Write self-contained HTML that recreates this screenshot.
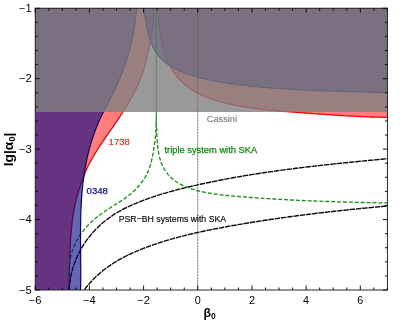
<!DOCTYPE html>
<html><head><meta charset="utf-8"><style>
html,body{margin:0;padding:0;background:#fff;}
body{width:419px;height:326px;overflow:hidden;position:relative;font-family:"Liberation Sans",sans-serif;}
svg text{font-family:"Liberation Sans",sans-serif;}
</style></head><body>
<svg width="419" height="326" viewBox="0 0 419 326" style="position:absolute;left:0;top:0;will-change:transform">
<defs><clipPath id="c"><rect x="35.25" y="8.25" width="352.15" height="281.75"/></clipPath></defs>
<g clip-path="url(#c)">
<polygon points="35.25,8.25 154.1,8.0 154.1,9.0 154.1,10.0 154.1,11.0 154.0,12.1 154.0,13.1 154.0,14.1 153.9,15.1 153.8,16.1 153.8,17.1 153.7,18.1 153.6,19.1 153.5,20.1 153.4,21.1 153.3,22.1 153.2,23.1 153.0,24.1 152.9,25.1 152.8,26.1 152.6,27.0 152.5,28.0 152.3,29.0 152.2,30.0 152.0,31.0 151.9,32.0 151.7,33.0 151.5,33.9 151.4,34.9 151.2,35.9 151.0,36.9 150.8,37.9 150.7,38.9 150.5,39.9 150.3,40.8 150.1,41.8 149.9,42.8 149.7,43.8 149.6,44.8 149.4,45.8 149.2,46.8 149.0,47.8 148.8,48.8 148.6,49.8 148.4,50.8 148.2,51.8 148.0,52.8 147.8,53.7 147.6,54.7 147.3,55.7 147.1,56.7 146.9,57.7 146.7,58.7 146.4,59.7 146.2,60.7 145.9,61.6 145.7,62.6 145.4,63.6 145.2,64.6 144.9,65.6 144.6,66.5 144.3,67.5 144.0,68.5 143.8,69.4 143.4,70.4 143.1,71.3 142.8,72.3 142.5,73.2 142.2,74.2 141.8,75.1 141.5,76.1 141.1,77.0 140.8,77.9 140.4,78.9 140.0,79.8 139.7,80.7 139.3,81.6 138.9,82.6 138.5,83.5 138.1,84.4 137.7,85.3 137.3,86.2 136.8,87.1 136.4,88.0 136.0,88.9 135.5,89.8 135.1,90.7 134.6,91.6 134.2,92.5 133.7,93.4 133.3,94.3 132.8,95.2 132.3,96.1 131.9,96.9 131.4,97.8 130.9,98.7 130.4,99.6 129.9,100.4 129.4,101.3 128.9,102.2 128.4,103.0 127.9,103.9 127.4,104.8 126.9,105.6 126.3,106.5 125.8,107.3 125.3,108.2 124.8,109.1 124.2,109.9 123.7,110.8 123.1,111.6 122.6,112.5 122.1,113.3 121.5,114.2 121.0,115.0 120.4,115.8 119.9,116.7 119.3,117.5 118.7,118.4 118.2,119.2 117.6,120.0 117.1,120.9 116.5,121.7 115.9,122.6 115.4,123.4 114.8,124.2 114.2,125.1 113.6,125.9 113.1,126.7 112.5,127.6 111.9,128.4 111.4,129.2 110.8,130.0 110.2,130.9 109.6,131.7 109.0,132.5 108.5,133.4 107.9,134.2 107.3,135.0 106.7,135.8 106.2,136.7 105.6,137.5 105.0,138.3 104.5,139.2 103.9,140.0 103.3,140.8 102.7,141.7 102.2,142.5 101.6,143.3 101.1,144.2 100.5,145.0 99.9,145.8 99.4,146.7 98.8,147.5 98.3,148.4 97.8,149.2 97.2,150.0 96.7,150.9 96.2,151.7 95.6,152.6 95.1,153.4 94.6,154.3 94.1,155.2 93.6,156.0 93.1,156.9 92.6,157.8 92.1,158.6 91.6,159.5 91.1,160.4 90.6,161.3 90.2,162.1 89.7,163.0 89.2,163.9 88.8,164.8 88.3,165.7 87.9,166.6 87.5,167.5 87.0,168.4 86.6,169.3 86.2,170.2 85.8,171.2 85.4,172.1 85.0,173.0 84.7,173.9 84.3,174.9 83.9,175.8 83.6,176.8 83.2,177.7 82.8,178.6 82.5,179.6 82.2,180.5 81.8,181.5 81.5,182.4 81.1,183.4 80.8,184.4 80.5,185.3 80.2,186.3 79.9,187.2 79.5,188.2 79.2,189.1 78.9,190.1 78.6,191.1 78.3,192.0 78.0,193.0 77.7,194.0 77.5,194.9 77.2,195.9 76.9,196.9 76.7,197.8 76.4,198.8 76.2,199.8 75.9,200.8 75.7,201.7 75.5,202.7 75.2,203.7 75.0,204.7 74.8,205.7 74.6,206.6 74.4,207.6 74.2,208.6 74.0,209.6 73.9,210.6 73.7,211.6 73.5,212.5 73.4,213.5 73.2,214.5 73.0,215.5 72.9,216.5 72.7,217.5 72.6,218.5 72.5,219.5 72.3,220.5 72.2,221.5 72.1,222.5 72.0,223.5 71.9,224.5 71.8,225.5 71.7,226.5 71.5,227.5 71.5,228.5 71.4,229.5 71.3,230.5 71.2,231.5 71.1,232.5 71.0,233.5 70.9,234.5 70.9,235.5 70.8,236.5 70.7,237.5 70.7,238.5 70.6,239.5 70.5,240.5 70.5,241.5 70.4,242.5 70.4,243.5 70.3,244.5 70.3,245.5 70.2,246.5 70.2,247.5 70.1,248.6 70.1,249.6 70.1,250.6 70.0,251.6 70.0,252.6 70.0,253.6 69.9,254.6 69.9,255.6 69.9,256.6 69.8,257.6 69.8,258.6 69.8,259.6 69.7,260.7 69.7,261.7 69.7,262.7 69.7,263.7 69.6,264.7 69.6,265.7 69.6,266.7 69.6,267.7 69.5,268.7 69.5,269.7 69.5,270.7 69.4,271.7 69.4,272.7 69.4,273.8 69.4,274.8 69.3,275.8 69.3,276.8 69.3,277.8 69.2,278.8 69.2,279.8 69.2,280.8 69.1,281.8 69.1,282.8 69.0,283.8 69.0,284.8 69.0,285.8 68.9,286.8 68.9,287.8 68.8,288.8 68.8,289.8 35.25,290.0" fill="rgb(255,0,0)" fill-opacity="0.5"/>
<polygon points="158.5,8.2 158.5,9.1 158.5,10.0 158.5,11.0 158.5,11.9 158.5,12.8 158.6,13.8 158.6,14.7 158.6,15.6 158.7,16.6 158.7,17.5 158.7,18.5 158.8,19.5 158.8,20.4 158.9,21.4 159.0,22.4 159.0,23.3 159.1,24.3 159.2,25.3 159.3,26.2 159.4,27.2 159.5,28.2 159.6,29.2 159.7,30.2 159.8,31.1 159.9,32.1 160.1,33.1 160.2,34.1 160.3,35.1 160.5,36.0 160.7,37.0 160.8,38.0 161.0,39.0 161.2,40.0 161.4,40.9 161.6,41.9 161.8,42.9 162.0,43.9 162.2,44.8 162.5,45.8 162.7,46.8 163.0,47.7 163.2,48.7 163.5,49.7 163.8,50.6 164.1,51.6 164.4,52.5 164.7,53.5 165.0,54.4 165.3,55.3 165.7,56.3 166.0,57.2 166.4,58.1 166.7,59.0 167.1,59.9 167.5,60.8 167.9,61.7 168.3,62.6 168.7,63.5 169.1,64.4 169.6,65.2 170.0,66.1 170.5,66.9 171.0,67.8 171.5,68.6 172.0,69.5 172.5,70.3 173.0,71.1 173.5,71.9 174.1,72.7 174.6,73.5 175.2,74.2 175.7,75.0 176.3,75.8 176.9,76.5 177.5,77.3 178.1,78.0 178.8,78.7 179.4,79.4 180.1,80.1 180.7,80.8 181.4,81.5 182.1,82.1 182.8,82.8 183.5,83.4 184.2,84.1 184.9,84.7 185.6,85.3 186.4,85.9 187.1,86.5 187.9,87.1 188.6,87.6 189.4,88.2 190.2,88.7 191.0,89.2 191.8,89.8 192.6,90.3 193.4,90.8 194.3,91.3 195.1,91.7 195.9,92.2 196.8,92.7 197.6,93.1 198.5,93.6 199.4,94.0 200.2,94.4 201.1,94.8 202.0,95.2 202.9,95.6 203.8,96.0 204.7,96.4 205.6,96.8 206.5,97.1 207.4,97.5 208.3,97.8 209.3,98.2 210.2,98.5 211.1,98.8 212.0,99.1 213.0,99.5 213.9,99.8 214.9,100.1 215.8,100.4 216.7,100.6 217.7,100.9 218.6,101.2 219.6,101.5 220.5,101.7 221.5,102.0 222.4,102.2 223.4,102.5 224.4,102.7 225.3,103.0 226.3,103.2 227.2,103.4 228.2,103.7 229.1,103.9 230.1,104.1 231.0,104.3 232.0,104.5 233.0,104.7 233.9,104.9 234.9,105.1 235.8,105.3 236.8,105.5 237.8,105.7 238.7,105.9 239.7,106.1 240.7,106.3 241.6,106.4 242.6,106.6 243.5,106.8 244.5,106.9 245.5,107.1 246.4,107.2 247.4,107.4 248.4,107.5 249.3,107.7 250.3,107.8 251.3,108.0 252.2,108.1 253.2,108.2 254.2,108.4 255.1,108.5 256.1,108.6 257.1,108.7 258.0,108.9 259.0,109.0 260.0,109.1 260.9,109.2 261.9,109.3 262.9,109.4 263.8,109.5 264.8,109.6 265.8,109.7 266.7,109.8 267.7,109.9 268.7,110.0 269.6,110.1 270.6,110.2 271.6,110.3 272.6,110.4 273.5,110.5 274.5,110.6 275.5,110.7 276.4,110.8 277.4,110.9 278.4,110.9 279.4,111.0 280.3,111.1 281.3,111.2 282.3,111.3 283.2,111.3 284.2,111.4 285.2,111.5 286.2,111.6 287.1,111.6 288.1,111.7 289.1,111.8 290.0,111.9 291.0,111.9 292.0,112.0 293.0,112.1 293.9,112.2 294.9,112.2 295.9,112.3 296.8,112.4 297.8,112.4 298.8,112.5 299.8,112.6 300.7,112.7 301.7,112.7 302.7,112.8 303.6,112.9 304.6,113.0 305.6,113.0 306.6,113.1 307.5,113.2 308.5,113.2 309.5,113.3 310.4,113.4 311.4,113.5 312.4,113.5 313.4,113.6 314.3,113.7 315.3,113.7 316.3,113.8 317.2,113.9 318.2,114.0 319.2,114.0 320.1,114.1 321.1,114.2 322.1,114.2 323.1,114.3 324.0,114.4 325.0,114.4 326.0,114.5 326.9,114.6 327.9,114.6 328.9,114.7 329.9,114.8 330.8,114.8 331.8,114.9 332.8,115.0 333.7,115.0 334.7,115.1 335.7,115.2 336.7,115.2 337.6,115.3 338.6,115.4 339.6,115.4 340.5,115.5 341.5,115.5 342.5,115.6 343.5,115.7 344.4,115.7 345.4,115.8 346.4,115.8 347.4,115.9 348.3,115.9 349.3,116.0 350.3,116.0 351.2,116.1 352.2,116.1 353.2,116.2 354.2,116.2 355.1,116.3 356.1,116.3 357.1,116.4 358.1,116.4 359.0,116.5 360.0,116.5 361.0,116.6 361.9,116.6 362.9,116.7 363.9,116.7 364.9,116.7 365.8,116.8 366.8,116.8 367.8,116.9 368.8,116.9 369.7,116.9 370.7,117.0 371.7,117.0 372.7,117.0 373.6,117.1 374.6,117.1 375.6,117.1 376.6,117.1 377.6,117.2 378.5,117.2 379.5,117.2 380.5,117.2 381.5,117.3 382.4,117.3 383.4,117.3 384.4,117.3 385.4,117.3 386.3,117.4 387.3,117.4 387.4,8.25" fill="rgb(255,0,0)" fill-opacity="0.5"/>
<polyline points="154.1,8.0 154.1,9.0 154.1,10.0 154.1,11.0 154.0,12.1 154.0,13.1 154.0,14.1 153.9,15.1 153.8,16.1 153.8,17.1 153.7,18.1 153.6,19.1 153.5,20.1 153.4,21.1 153.3,22.1 153.2,23.1 153.0,24.1 152.9,25.1 152.8,26.1 152.6,27.0 152.5,28.0 152.3,29.0 152.2,30.0 152.0,31.0 151.9,32.0 151.7,33.0 151.5,33.9 151.4,34.9 151.2,35.9 151.0,36.9 150.8,37.9 150.7,38.9 150.5,39.9 150.3,40.8 150.1,41.8 149.9,42.8 149.7,43.8 149.6,44.8 149.4,45.8 149.2,46.8 149.0,47.8 148.8,48.8 148.6,49.8 148.4,50.8 148.2,51.8 148.0,52.8 147.8,53.7 147.6,54.7 147.3,55.7 147.1,56.7 146.9,57.7 146.7,58.7 146.4,59.7 146.2,60.7 145.9,61.6 145.7,62.6 145.4,63.6 145.2,64.6 144.9,65.6 144.6,66.5 144.3,67.5 144.0,68.5 143.8,69.4 143.4,70.4 143.1,71.3 142.8,72.3 142.5,73.2 142.2,74.2 141.8,75.1 141.5,76.1 141.1,77.0 140.8,77.9 140.4,78.9 140.0,79.8 139.7,80.7 139.3,81.6 138.9,82.6 138.5,83.5 138.1,84.4 137.7,85.3 137.3,86.2 136.8,87.1 136.4,88.0 136.0,88.9 135.5,89.8 135.1,90.7 134.6,91.6 134.2,92.5 133.7,93.4 133.3,94.3 132.8,95.2 132.3,96.1 131.9,96.9 131.4,97.8 130.9,98.7 130.4,99.6 129.9,100.4 129.4,101.3 128.9,102.2 128.4,103.0 127.9,103.9 127.4,104.8 126.9,105.6 126.3,106.5 125.8,107.3 125.3,108.2 124.8,109.1 124.2,109.9 123.7,110.8 123.1,111.6 122.6,112.5 122.1,113.3 121.5,114.2 121.0,115.0 120.4,115.8 119.9,116.7 119.3,117.5 118.7,118.4 118.2,119.2 117.6,120.0 117.1,120.9 116.5,121.7 115.9,122.6 115.4,123.4 114.8,124.2 114.2,125.1 113.6,125.9 113.1,126.7 112.5,127.6 111.9,128.4 111.4,129.2 110.8,130.0 110.2,130.9 109.6,131.7 109.0,132.5 108.5,133.4 107.9,134.2 107.3,135.0 106.7,135.8 106.2,136.7 105.6,137.5 105.0,138.3 104.5,139.2 103.9,140.0 103.3,140.8 102.7,141.7 102.2,142.5 101.6,143.3 101.1,144.2 100.5,145.0 99.9,145.8 99.4,146.7 98.8,147.5 98.3,148.4 97.8,149.2 97.2,150.0 96.7,150.9 96.2,151.7 95.6,152.6 95.1,153.4 94.6,154.3 94.1,155.2 93.6,156.0 93.1,156.9 92.6,157.8 92.1,158.6 91.6,159.5 91.1,160.4 90.6,161.3 90.2,162.1 89.7,163.0 89.2,163.9 88.8,164.8 88.3,165.7 87.9,166.6 87.5,167.5 87.0,168.4 86.6,169.3 86.2,170.2 85.8,171.2 85.4,172.1 85.0,173.0 84.7,173.9 84.3,174.9 83.9,175.8 83.6,176.8 83.2,177.7 82.8,178.6 82.5,179.6 82.2,180.5 81.8,181.5 81.5,182.4 81.1,183.4 80.8,184.4 80.5,185.3 80.2,186.3 79.9,187.2 79.5,188.2 79.2,189.1 78.9,190.1 78.6,191.1 78.3,192.0 78.0,193.0 77.7,194.0 77.5,194.9 77.2,195.9 76.9,196.9 76.7,197.8 76.4,198.8 76.2,199.8 75.9,200.8 75.7,201.7 75.5,202.7 75.2,203.7 75.0,204.7 74.8,205.7 74.6,206.6 74.4,207.6 74.2,208.6 74.0,209.6 73.9,210.6 73.7,211.6 73.5,212.5 73.4,213.5 73.2,214.5 73.0,215.5 72.9,216.5 72.7,217.5 72.6,218.5 72.5,219.5 72.3,220.5 72.2,221.5 72.1,222.5 72.0,223.5 71.9,224.5 71.8,225.5 71.7,226.5 71.5,227.5 71.5,228.5 71.4,229.5 71.3,230.5 71.2,231.5 71.1,232.5 71.0,233.5 70.9,234.5 70.9,235.5 70.8,236.5 70.7,237.5 70.7,238.5 70.6,239.5 70.5,240.5 70.5,241.5 70.4,242.5 70.4,243.5 70.3,244.5 70.3,245.5 70.2,246.5 70.2,247.5 70.1,248.6 70.1,249.6 70.1,250.6 70.0,251.6 70.0,252.6 70.0,253.6 69.9,254.6 69.9,255.6 69.9,256.6 69.8,257.6 69.8,258.6 69.8,259.6 69.7,260.7 69.7,261.7 69.7,262.7 69.7,263.7 69.6,264.7 69.6,265.7 69.6,266.7 69.6,267.7 69.5,268.7 69.5,269.7 69.5,270.7 69.4,271.7 69.4,272.7 69.4,273.8 69.4,274.8 69.3,275.8 69.3,276.8 69.3,277.8 69.2,278.8 69.2,279.8 69.2,280.8 69.1,281.8 69.1,282.8 69.0,283.8 69.0,284.8 69.0,285.8 68.9,286.8 68.9,287.8 68.8,288.8 68.8,289.8" fill="none" stroke="rgb(255,0,0)" stroke-width="1.3"/>
<polyline points="158.5,8.2 158.5,9.1 158.5,10.0 158.5,11.0 158.5,11.9 158.5,12.8 158.6,13.8 158.6,14.7 158.6,15.6 158.7,16.6 158.7,17.5 158.7,18.5 158.8,19.5 158.8,20.4 158.9,21.4 159.0,22.4 159.0,23.3 159.1,24.3 159.2,25.3 159.3,26.2 159.4,27.2 159.5,28.2 159.6,29.2 159.7,30.2 159.8,31.1 159.9,32.1 160.1,33.1 160.2,34.1 160.3,35.1 160.5,36.0 160.7,37.0 160.8,38.0 161.0,39.0 161.2,40.0 161.4,40.9 161.6,41.9 161.8,42.9 162.0,43.9 162.2,44.8 162.5,45.8 162.7,46.8 163.0,47.7 163.2,48.7 163.5,49.7 163.8,50.6 164.1,51.6 164.4,52.5 164.7,53.5 165.0,54.4 165.3,55.3 165.7,56.3 166.0,57.2 166.4,58.1 166.7,59.0 167.1,59.9 167.5,60.8 167.9,61.7 168.3,62.6 168.7,63.5 169.1,64.4 169.6,65.2 170.0,66.1 170.5,66.9 171.0,67.8 171.5,68.6 172.0,69.5 172.5,70.3 173.0,71.1 173.5,71.9 174.1,72.7 174.6,73.5 175.2,74.2 175.7,75.0 176.3,75.8 176.9,76.5 177.5,77.3 178.1,78.0 178.8,78.7 179.4,79.4 180.1,80.1 180.7,80.8 181.4,81.5 182.1,82.1 182.8,82.8 183.5,83.4 184.2,84.1 184.9,84.7 185.6,85.3 186.4,85.9 187.1,86.5 187.9,87.1 188.6,87.6 189.4,88.2 190.2,88.7 191.0,89.2 191.8,89.8 192.6,90.3 193.4,90.8 194.3,91.3 195.1,91.7 195.9,92.2 196.8,92.7 197.6,93.1 198.5,93.6 199.4,94.0 200.2,94.4 201.1,94.8 202.0,95.2 202.9,95.6 203.8,96.0 204.7,96.4 205.6,96.8 206.5,97.1 207.4,97.5 208.3,97.8 209.3,98.2 210.2,98.5 211.1,98.8 212.0,99.1 213.0,99.5 213.9,99.8 214.9,100.1 215.8,100.4 216.7,100.6 217.7,100.9 218.6,101.2 219.6,101.5 220.5,101.7 221.5,102.0 222.4,102.2 223.4,102.5 224.4,102.7 225.3,103.0 226.3,103.2 227.2,103.4 228.2,103.7 229.1,103.9 230.1,104.1 231.0,104.3 232.0,104.5 233.0,104.7 233.9,104.9 234.9,105.1 235.8,105.3 236.8,105.5 237.8,105.7 238.7,105.9 239.7,106.1 240.7,106.3 241.6,106.4 242.6,106.6 243.5,106.8 244.5,106.9 245.5,107.1 246.4,107.2 247.4,107.4 248.4,107.5 249.3,107.7 250.3,107.8 251.3,108.0 252.2,108.1 253.2,108.2 254.2,108.4 255.1,108.5 256.1,108.6 257.1,108.7 258.0,108.9 259.0,109.0 260.0,109.1 260.9,109.2 261.9,109.3 262.9,109.4 263.8,109.5 264.8,109.6 265.8,109.7 266.7,109.8 267.7,109.9 268.7,110.0 269.6,110.1 270.6,110.2 271.6,110.3 272.6,110.4 273.5,110.5 274.5,110.6 275.5,110.7 276.4,110.8 277.4,110.9 278.4,110.9 279.4,111.0 280.3,111.1 281.3,111.2 282.3,111.3 283.2,111.3 284.2,111.4 285.2,111.5 286.2,111.6 287.1,111.6 288.1,111.7 289.1,111.8 290.0,111.9 291.0,111.9 292.0,112.0 293.0,112.1 293.9,112.2 294.9,112.2 295.9,112.3 296.8,112.4 297.8,112.4 298.8,112.5 299.8,112.6 300.7,112.7 301.7,112.7 302.7,112.8 303.6,112.9 304.6,113.0 305.6,113.0 306.6,113.1 307.5,113.2 308.5,113.2 309.5,113.3 310.4,113.4 311.4,113.5 312.4,113.5 313.4,113.6 314.3,113.7 315.3,113.7 316.3,113.8 317.2,113.9 318.2,114.0 319.2,114.0 320.1,114.1 321.1,114.2 322.1,114.2 323.1,114.3 324.0,114.4 325.0,114.4 326.0,114.5 326.9,114.6 327.9,114.6 328.9,114.7 329.9,114.8 330.8,114.8 331.8,114.9 332.8,115.0 333.7,115.0 334.7,115.1 335.7,115.2 336.7,115.2 337.6,115.3 338.6,115.4 339.6,115.4 340.5,115.5 341.5,115.5 342.5,115.6 343.5,115.7 344.4,115.7 345.4,115.8 346.4,115.8 347.4,115.9 348.3,115.9 349.3,116.0 350.3,116.0 351.2,116.1 352.2,116.1 353.2,116.2 354.2,116.2 355.1,116.3 356.1,116.3 357.1,116.4 358.1,116.4 359.0,116.5 360.0,116.5 361.0,116.6 361.9,116.6 362.9,116.7 363.9,116.7 364.9,116.7 365.8,116.8 366.8,116.8 367.8,116.9 368.8,116.9 369.7,116.9 370.7,117.0 371.7,117.0 372.7,117.0 373.6,117.1 374.6,117.1 375.6,117.1 376.6,117.1 377.6,117.2 378.5,117.2 379.5,117.2 380.5,117.2 381.5,117.3 382.4,117.3 383.4,117.3 384.4,117.3 385.4,117.3 386.3,117.4 387.3,117.4" fill="none" stroke="rgb(255,0,0)" stroke-width="1.3"/>
<polyline points="69.2,290.1 69.3,288.8 69.3,287.5 69.4,286.3 69.6,285.0 69.7,283.7 69.9,282.4 70.0,281.1 70.2,279.9 70.4,278.6 70.7,277.4 70.9,276.1 71.2,274.9 71.4,273.6 71.7,272.4 72.0,271.2 72.4,270.0 72.7,268.7 73.1,267.5 73.4,266.3 73.8,265.2 74.2,264.0 74.7,262.8 75.1,261.6 75.6,260.5 76.0,259.3 76.5,258.2 77.0,257.0 77.5,255.9 78.1,254.8 78.6,253.6 79.2,252.5 79.7,251.4 80.3,250.3 80.9,249.3 81.5,248.2 82.2,247.1 82.8,246.1 83.5,245.0 84.1,244.0 84.8,242.9 85.5,241.9 86.2,240.9 86.9,239.9 87.7,238.9 88.4,237.9 89.2,237.0 89.9,236.0 90.7,235.0 91.5,234.1 92.3,233.2 93.1,232.2 94.0,231.3 94.8,230.4 95.6,229.5 96.5,228.6 97.4,227.8 98.3,226.9 99.2,226.1 100.1,225.2 101.0,224.4 101.9,223.6 102.8,222.8 103.8,222.0 104.7,221.2 105.7,220.4 106.7,219.7 107.6,218.9 108.6,218.2 109.6,217.5 110.6,216.8 111.7,216.1 112.7,215.4 113.7,214.7 114.8,214.0 115.8,213.4 116.9,212.7 117.9,212.1 119.0,211.5 120.1,210.9 121.2,210.3 122.2,209.7 123.3,209.1 124.4,208.5 125.6,208.0 126.7,207.4 127.8,206.9 128.9,206.4 130.0,205.8 131.2,205.3 132.3,204.8 133.5,204.3 134.6,203.8 135.8,203.3 136.9,202.8 138.1,202.4 139.2,201.9 140.4,201.5 141.5,201.0 142.7,200.6 143.9,200.1 145.1,199.7 146.2,199.3 147.4,198.8 148.6,198.4 149.8,198.0 150.9,197.6 152.1,197.2 153.3,196.8 154.5,196.4 155.7,196.0 156.9,195.6 158.1,195.2 159.2,194.9 160.4,194.5 161.6,194.1 162.8,193.8 164.0,193.4 165.2,193.1 166.4,192.7 167.6,192.4 168.8,192.0 170.0,191.7 171.2,191.4 172.4,191.0 173.6,190.7 174.8,190.4 176.0,190.1 177.2,189.7 178.4,189.4 179.6,189.1 180.8,188.8 182.0,188.5 183.2,188.2 184.5,187.9 185.7,187.6 186.9,187.3 188.1,187.0 189.3,186.7 190.5,186.5 191.7,186.2 192.9,185.9 194.1,185.6 195.4,185.4 196.6,185.1 197.8,184.8 199.0,184.5 200.2,184.3 201.4,184.0 202.6,183.7 203.9,183.5 205.1,183.2 206.3,183.0 207.5,182.7 208.7,182.5 209.9,182.2 211.2,182.0 212.4,181.7 213.6,181.5 214.8,181.2 216.0,181.0 217.3,180.7 218.5,180.5 219.7,180.3 220.9,180.0 222.1,179.8 223.4,179.6 224.6,179.3 225.8,179.1 227.0,178.9 228.2,178.6 229.5,178.4 230.7,178.2 231.9,178.0 233.1,177.7 234.4,177.5 235.6,177.3 236.8,177.1 238.0,176.9 239.3,176.7 240.5,176.5 241.7,176.3 242.9,176.0 244.1,175.8 245.4,175.6 246.6,175.4 247.8,175.2 249.1,175.0 250.3,174.8 251.5,174.6 252.7,174.4 254.0,174.2 255.2,174.0 256.4,173.9 257.6,173.7 258.9,173.5 260.1,173.3 261.3,173.1 262.6,172.9 263.8,172.7 265.0,172.5 266.2,172.4 267.5,172.2 268.7,172.0 269.9,171.8 271.2,171.6 272.4,171.5 273.6,171.3 274.8,171.1 276.1,171.0 277.3,170.8 278.5,170.6 279.8,170.4 281.0,170.3 282.2,170.1 283.5,169.9 284.7,169.8 285.9,169.6 287.2,169.5 288.4,169.3 289.6,169.1 290.9,169.0 292.1,168.8 293.3,168.7 294.6,168.5 295.8,168.3 297.0,168.2 298.3,168.0 299.5,167.9 300.7,167.7 302.0,167.6 303.2,167.4 304.4,167.3 305.7,167.1 306.9,167.0 308.1,166.8 309.4,166.7 310.6,166.5 311.8,166.4 313.1,166.3 314.3,166.1 315.5,166.0 316.8,165.8 318.0,165.7 319.2,165.6 320.5,165.4 321.7,165.3 323.0,165.1 324.2,165.0 325.4,164.9 326.7,164.7 327.9,164.6 329.1,164.5 330.4,164.3 331.6,164.2 332.8,164.1 334.1,163.9 335.3,163.8 336.6,163.7 337.8,163.6 339.0,163.4 340.3,163.3 341.5,163.2 342.7,163.0 344.0,162.9 345.2,162.8 346.5,162.7 347.7,162.5 348.9,162.4 350.2,162.3 351.4,162.2 352.6,162.0 353.9,161.9 355.1,161.8 356.4,161.7 357.6,161.5 358.8,161.4 360.1,161.3 361.3,161.2 362.5,161.1 363.8,160.9 365.0,160.8 366.3,160.7 367.5,160.6 368.7,160.5 370.0,160.3 371.2,160.2 372.5,160.1 373.7,160.0 374.9,159.9 376.2,159.7 377.4,159.6 378.6,159.5 379.9,159.4 381.1,159.3 382.4,159.2 383.6,159.0 384.8,158.9 386.1,158.8 387.3,158.7" fill="none" stroke="#0a0a0a" stroke-width="1.4" stroke-dasharray="5.45 0.85"/>
<polyline points="84.5,289.6 85.2,288.7 85.9,287.8 86.5,287.0 87.2,286.1 87.9,285.2 88.7,284.4 89.4,283.6 90.1,282.8 90.8,282.0 91.6,281.2 92.3,280.4 93.1,279.6 93.8,278.8 94.6,278.1 95.3,277.3 96.1,276.6 96.9,275.8 97.7,275.1 98.5,274.4 99.3,273.7 100.1,273.0 100.9,272.3 101.7,271.6 102.6,270.9 103.4,270.3 104.3,269.6 105.1,269.0 105.9,268.3 106.8,267.7 107.7,267.1 108.5,266.5 109.4,265.9 110.3,265.3 111.2,264.7 112.0,264.1 112.9,263.5 113.8,262.9 114.7,262.4 115.6,261.8 116.5,261.3 117.5,260.7 118.4,260.2 119.3,259.7 120.2,259.1 121.2,258.6 122.1,258.1 123.0,257.6 124.0,257.1 124.9,256.6 125.9,256.2 126.8,255.7 127.8,255.2 128.7,254.7 129.7,254.3 130.7,253.8 131.6,253.4 132.6,252.9 133.6,252.5 134.6,252.1 135.6,251.6 136.5,251.2 137.5,250.8 138.5,250.4 139.5,250.0 140.5,249.6 141.5,249.2 142.5,248.8 143.5,248.4 144.5,248.0 145.5,247.6 146.5,247.2 147.5,246.9 148.5,246.5 149.5,246.1 150.5,245.8 151.6,245.4 152.6,245.0 153.6,244.7 154.6,244.3 155.6,244.0 156.6,243.7 157.7,243.3 158.7,243.0 159.7,242.7 160.7,242.3 161.7,242.0 162.8,241.7 163.8,241.4 164.8,241.0 165.9,240.7 166.9,240.4 167.9,240.1 168.9,239.8 170.0,239.5 171.0,239.2 172.0,238.9 173.1,238.6 174.1,238.3 175.1,238.0 176.2,237.8 177.2,237.5 178.3,237.2 179.3,236.9 180.3,236.7 181.4,236.4 182.4,236.1 183.5,235.9 184.5,235.6 185.6,235.3 186.6,235.1 187.6,234.8 188.7,234.6 189.7,234.3 190.8,234.1 191.8,233.8 192.9,233.6 193.9,233.3 195.0,233.1 196.0,232.8 197.1,232.6 198.1,232.4 199.2,232.1 200.2,231.9 201.3,231.7 202.3,231.5 203.4,231.2 204.4,231.0 205.5,230.8 206.5,230.6 207.6,230.3 208.7,230.1 209.7,229.9 210.8,229.7 211.8,229.5 212.9,229.3 213.9,229.1 215.0,228.9 216.1,228.7 217.1,228.5 218.2,228.3 219.2,228.1 220.3,227.9 221.3,227.7 222.4,227.5 223.5,227.3 224.5,227.1 225.6,226.9 226.6,226.7 227.7,226.5 228.8,226.3 229.8,226.1 230.9,225.9 231.9,225.7 233.0,225.5 234.0,225.4 235.1,225.2 236.2,225.0 237.2,224.8 238.3,224.6 239.3,224.4 240.4,224.3 241.5,224.1 242.5,223.9 243.6,223.7 244.6,223.5 245.7,223.4 246.8,223.2 247.8,223.0 248.9,222.8 249.9,222.7 251.0,222.5 252.1,222.3 253.1,222.2 254.2,222.0 255.2,221.8 256.3,221.6 257.4,221.5 258.4,221.3 259.5,221.1 260.5,221.0 261.6,220.8 262.7,220.7 263.7,220.5 264.8,220.3 265.8,220.2 266.9,220.0 268.0,219.9 269.0,219.7 270.1,219.5 271.1,219.4 272.2,219.2 273.3,219.1 274.3,218.9 275.4,218.8 276.4,218.6 277.5,218.5 278.6,218.3 279.6,218.1 280.7,218.0 281.7,217.8 282.8,217.7 283.9,217.6 284.9,217.4 286.0,217.3 287.0,217.1 288.1,217.0 289.2,216.8 290.2,216.7 291.3,216.5 292.4,216.4 293.4,216.2 294.5,216.1 295.5,216.0 296.6,215.8 297.7,215.7 298.7,215.5 299.8,215.4 300.9,215.3 301.9,215.1 303.0,215.0 304.0,214.9 305.1,214.7 306.2,214.6 307.2,214.5 308.3,214.3 309.4,214.2 310.4,214.1 311.5,213.9 312.5,213.8 313.6,213.7 314.7,213.5 315.7,213.4 316.8,213.3 317.9,213.2 318.9,213.0 320.0,212.9 321.1,212.8 322.1,212.7 323.2,212.5 324.3,212.4 325.3,212.3 326.4,212.2 327.5,212.1 328.5,211.9 329.6,211.8 330.6,211.7 331.7,211.6 332.8,211.5 333.8,211.3 334.9,211.2 336.0,211.1 337.0,211.0 338.1,210.9 339.2,210.7 340.2,210.6 341.3,210.5 342.4,210.4 343.5,210.3 344.5,210.2 345.6,210.1 346.7,210.0 347.7,209.8 348.8,209.7 349.9,209.6 350.9,209.5 352.0,209.4 353.1,209.3 354.1,209.2 355.2,209.1 356.3,209.0 357.3,208.9 358.4,208.8 359.5,208.6 360.6,208.5 361.6,208.4 362.7,208.3 363.8,208.2 364.8,208.1 365.9,208.0 367.0,207.9 368.1,207.8 369.1,207.7 370.2,207.6 371.3,207.5 372.3,207.4 373.4,207.3 374.5,207.2 375.6,207.1 376.6,207.0 377.7,206.9 378.8,206.8 379.9,206.7 380.9,206.6 382.0,206.5 383.1,206.4 384.2,206.3 385.2,206.2 386.3,206.1 387.4,206.0" fill="none" stroke="#0a0a0a" stroke-width="1.4" stroke-dasharray="5.45 0.85"/>
<polyline points="69.3,276.0 69.2,275.4 69.2,274.8 69.1,274.2 69.1,273.5 69.1,272.9 69.1,272.3 69.0,271.7 69.0,271.1 69.0,270.4 69.0,269.8 69.1,269.2 69.1,268.6 69.1,268.0 69.1,267.4 69.2,266.7 69.2,266.1 69.3,265.5 69.3,264.9 69.4,264.3 69.5,263.7 69.5,263.1 69.6,262.5 69.7,261.9 69.8,261.2 69.9,260.6 70.0,260.0 70.1,259.4 70.2,258.8 70.3,258.2 70.5,257.6 70.6,257.1 70.7,256.5 70.9,255.9 71.0,255.3 71.2,254.7 71.3,254.1 71.5,253.5 71.7,252.9 71.9,252.4 72.0,251.8 72.2,251.2 72.4,250.6 72.6,250.0 72.8,249.5 73.0,248.9 73.2,248.3 73.5,247.8 73.7,247.2 73.9,246.6 74.2,246.1 74.4,245.5 74.6,245.0 74.9,244.4 75.1,243.9 75.4,243.3 75.7,242.8 75.9,242.2 76.2,241.7 76.5,241.1 76.8,240.6 77.1,240.1 77.4,239.5 77.7,239.0 78.0,238.5 78.3,238.0 78.6,237.4 78.9,236.9 79.2,236.4 79.6,235.9 79.9,235.4 80.2,234.9 80.6,234.4 80.9,233.9 81.3,233.4 81.6,232.9 82.0,232.4 82.3,231.9 82.7,231.4 83.1,230.9 83.5,230.5 83.8,230.0 84.2,229.5 84.6,229.0 85.0,228.6 85.4,228.1 85.8,227.7 86.2,227.2 86.6,226.7 87.0,226.3 87.4,225.8 87.9,225.4 88.3,225.0 88.7,224.5 89.1,224.1 89.6,223.7 90.0,223.2 90.4,222.8 90.9,222.4 91.3,222.0 91.8,221.6 92.2,221.1 92.7,220.7 93.1,220.3 93.6,219.9 94.1,219.5 94.5,219.1 95.0,218.7 95.5,218.3 96.0,217.9 96.4,217.6 96.9,217.2 97.4,216.8 97.9,216.4 98.4,216.0 98.8,215.7 99.3,215.3 99.8,214.9 100.3,214.5 100.8,214.2 101.3,213.8 101.8,213.5 102.3,213.1 102.8,212.7 103.3,212.4 103.8,212.0 104.3,211.7 104.8,211.3 105.4,211.0 105.9,210.6 106.4,210.3 106.9,209.9 107.4,209.6 107.9,209.3 108.4,208.9 108.9,208.6 109.5,208.3 110.0,207.9 110.5,207.6 111.0,207.3 111.5,206.9 112.0,206.6 112.6,206.3 113.1,206.0 113.6,205.6 114.1,205.3 114.6,205.0 115.2,204.7 115.7,204.4 116.2,204.0 116.7,203.7 117.2,203.4 117.7,203.1 118.3,202.7 118.8,202.4 119.3,202.1 119.8,201.7 120.3,201.4 120.8,201.1 121.3,200.8 121.8,200.4 122.3,200.1 122.8,199.7 123.3,199.4 123.8,199.1 124.3,198.7 124.8,198.4 125.3,198.0 125.8,197.7 126.3,197.3 126.8,196.9 127.3,196.6 127.8,196.2 128.3,195.8 128.7,195.5 129.2,195.1 129.7,194.7 130.2,194.3 130.6,193.9 131.1,193.5 131.6,193.1 132.0,192.7 132.5,192.3 132.9,191.9 133.4,191.5 133.8,191.1 134.3,190.7 134.7,190.2 135.2,189.8 135.6,189.4 136.0,189.0 136.4,188.5 136.9,188.1 137.3,187.6 137.7,187.2 138.1,186.7 138.5,186.3 138.9,185.8 139.3,185.3 139.7,184.9 140.1,184.4 140.5,183.9 140.8,183.5 141.2,183.0 141.6,182.5 141.9,182.0 142.3,181.5 142.7,181.0 143.0,180.5 143.3,180.0 143.7,179.5 144.0,179.0 144.3,178.5 144.7,178.0 145.0,177.5 145.3,176.9 145.6,176.4 145.9,175.9 146.2,175.4 146.4,174.8 146.7,174.3 147.0,173.7 147.3,173.2 147.5,172.7 147.8,172.1 148.0,171.5 148.3,171.0 148.5,170.4 148.7,169.9 148.9,169.3 149.1,168.7 149.4,168.2 149.6,167.6 149.8,167.0 149.9,166.4 150.1,165.8 150.3,165.3 150.5,164.7 150.7,164.1 150.8,163.5 151.0,162.9 151.1,162.3 151.3,161.7 151.5,161.1 151.6,160.5 151.7,159.9 151.9,159.3 152.0,158.7 152.1,158.1 152.3,157.5 152.4,156.9 152.5,156.3 152.6,155.7 152.7,155.1 152.9,154.5 153.0,153.9 153.1,153.3 153.2,152.7 153.3,152.0 153.4,151.4 153.5,150.8 153.6,150.2 153.7,149.6 153.8,149.0 153.9,148.4 154.0,147.8 154.1,147.2 154.2,146.6 154.2,146.0 154.3,145.4 154.4,144.8 154.5,144.2 154.6,143.6 154.7,143.0 154.8,142.4 154.9,141.8 154.9,141.2 155.0,140.5 155.1,139.9 155.2,139.3 155.2,138.7 155.3,138.1 155.4,137.5 155.4,136.9 155.5,136.3 155.6,135.7 155.6,135.1 155.7,134.5 155.7,133.9 155.8,133.3 155.8,132.7 155.8,132.1 155.9,131.5 155.9,130.9 155.9,130.3 155.9,129.7 155.9,129.1 155.9,128.5 155.9,127.8 155.9,127.2" fill="none" stroke="rgb(22,142,22)" stroke-width="1.3" stroke-dasharray="4.0 1.9"/>
<polyline points="156.7,127.2 156.7,128.1 156.7,128.9 156.7,129.8 156.7,130.7 156.7,131.6 156.8,132.5 156.8,133.4 156.8,134.3 156.8,135.2 156.9,136.1 156.9,137.1 157.0,138.0 157.0,138.9 157.1,139.9 157.1,140.8 157.2,141.7 157.3,142.7 157.4,143.6 157.4,144.6 157.5,145.5 157.6,146.5 157.8,147.4 157.9,148.4 158.0,149.3 158.1,150.2 158.3,151.2 158.5,152.1 158.6,153.0 158.8,154.0 159.0,154.9 159.2,155.8 159.4,156.7 159.7,157.6 159.9,158.5 160.2,159.4 160.4,160.3 160.7,161.2 161.0,162.0 161.3,162.9 161.7,163.7 162.0,164.6 162.4,165.4 162.8,166.2 163.2,167.0 163.6,167.8 164.0,168.6 164.5,169.4 164.9,170.1 165.4,170.9 165.9,171.6 166.4,172.3 166.9,173.0 167.5,173.7 168.0,174.4 168.6,175.1 169.2,175.7 169.8,176.4 170.4,177.0 171.1,177.6 171.7,178.2 172.4,178.8 173.1,179.4 173.7,179.9 174.5,180.5 175.2,181.0 175.9,181.5 176.6,182.0 177.4,182.5 178.2,182.9 179.0,183.4 179.7,183.8 180.5,184.3 181.4,184.7 182.2,185.1 183.0,185.5 183.8,185.9 184.7,186.3 185.5,186.6 186.4,187.0 187.2,187.3 188.1,187.7 189.0,188.0 189.9,188.3 190.8,188.6 191.6,188.9 192.5,189.2 193.4,189.5 194.3,189.7 195.2,190.0 196.1,190.2 197.0,190.5 197.9,190.7 198.9,191.0 199.8,191.2 200.7,191.4 201.6,191.6 202.5,191.8 203.4,192.0 204.3,192.2 205.2,192.4 206.1,192.6 207.0,192.7 207.9,192.9 208.9,193.1 209.8,193.2 210.7,193.4 211.6,193.5 212.5,193.7 213.4,193.8 214.3,194.0 215.2,194.1 216.1,194.2 217.0,194.3 218.0,194.5 218.9,194.6 219.8,194.7 220.7,194.8 221.6,194.9 222.5,195.0 223.4,195.1 224.3,195.2 225.2,195.3 226.2,195.4 227.1,195.5 228.0,195.6 228.9,195.7 229.8,195.7 230.7,195.8 231.6,195.9 232.5,196.0 233.5,196.1 234.4,196.1 235.3,196.2 236.2,196.3 237.1,196.4 238.0,196.5 238.9,196.5 239.8,196.6 240.8,196.7 241.7,196.7 242.6,196.8 243.5,196.9 244.4,197.0 245.3,197.0 246.2,197.1 247.1,197.2 248.1,197.2 249.0,197.3 249.9,197.4 250.8,197.5 251.7,197.5 252.6,197.6 253.5,197.7 254.5,197.7 255.4,197.8 256.3,197.9 257.2,197.9 258.1,198.0 259.0,198.0 259.9,198.1 260.9,198.2 261.8,198.2 262.7,198.3 263.6,198.4 264.5,198.4 265.4,198.5 266.3,198.5 267.3,198.6 268.2,198.7 269.1,198.7 270.0,198.8 270.9,198.8 271.8,198.9 272.7,198.9 273.7,199.0 274.6,199.0 275.5,199.1 276.4,199.2 277.3,199.2 278.2,199.3 279.1,199.3 280.1,199.4 281.0,199.4 281.9,199.5 282.8,199.5 283.7,199.6 284.6,199.6 285.6,199.7 286.5,199.7 287.4,199.8 288.3,199.8 289.2,199.9 290.1,199.9 291.0,200.0 292.0,200.0 292.9,200.1 293.8,200.1 294.7,200.1 295.6,200.2 296.5,200.2 297.5,200.3 298.4,200.3 299.3,200.4 300.2,200.4 301.1,200.4 302.0,200.5 303.0,200.5 303.9,200.6 304.8,200.6 305.7,200.7 306.6,200.7 307.5,200.7 308.4,200.8 309.4,200.8 310.3,200.8 311.2,200.9 312.1,200.9 313.0,201.0 313.9,201.0 314.9,201.0 315.8,201.1 316.7,201.1 317.6,201.1 318.5,201.2 319.4,201.2 320.4,201.2 321.3,201.3 322.2,201.3 323.1,201.3 324.0,201.4 324.9,201.4 325.9,201.4 326.8,201.5 327.7,201.5 328.6,201.5 329.5,201.6 330.4,201.6 331.4,201.6 332.3,201.7 333.2,201.7 334.1,201.7 335.0,201.7 335.9,201.8 336.9,201.8 337.8,201.8 338.7,201.9 339.6,201.9 340.5,201.9 341.4,201.9 342.4,202.0 343.3,202.0 344.2,202.0 345.1,202.0 346.0,202.1 347.0,202.1 347.9,202.1 348.8,202.1 349.7,202.2 350.6,202.2 351.5,202.2 352.5,202.2 353.4,202.3 354.3,202.3 355.2,202.3 356.1,202.3 357.0,202.3 358.0,202.4 358.9,202.4 359.8,202.4 360.7,202.4 361.6,202.5 362.5,202.5 363.5,202.5 364.4,202.5 365.3,202.5 366.2,202.6 367.1,202.6 368.0,202.6 369.0,202.6 369.9,202.6 370.8,202.6 371.7,202.7 372.6,202.7 373.5,202.7 374.5,202.7 375.4,202.7 376.3,202.7 377.2,202.8 378.1,202.8 379.1,202.8 380.0,202.8 380.9,202.8 381.8,202.8 382.7,202.9 383.6,202.9 384.6,202.9 385.5,202.9 386.4,202.9 387.3,202.9" fill="none" stroke="rgb(22,142,22)" stroke-width="1.3" stroke-dasharray="4.0 1.9"/>
<polygon points="35.25,8.25 136.7,8.0 136.6,8.9 136.5,9.9 136.4,10.9 136.3,11.8 136.2,12.8 136.1,13.8 136.0,14.7 135.9,15.7 135.8,16.7 135.7,17.6 135.5,18.6 135.4,19.6 135.3,20.5 135.1,21.5 135.0,22.5 134.9,23.4 134.7,24.4 134.6,25.4 134.4,26.3 134.3,27.3 134.1,28.3 134.0,29.2 133.8,30.2 133.6,31.1 133.4,32.1 133.3,33.1 133.1,34.0 132.9,35.0 132.7,35.9 132.5,36.9 132.3,37.8 132.1,38.8 131.9,39.7 131.7,40.7 131.5,41.6 131.3,42.6 131.1,43.5 130.9,44.5 130.6,45.4 130.4,46.4 130.2,47.3 129.9,48.3 129.7,49.2 129.4,50.2 129.2,51.1 128.9,52.0 128.7,53.0 128.4,53.9 128.2,54.9 127.9,55.8 127.6,56.7 127.3,57.7 127.0,58.6 126.8,59.5 126.5,60.4 126.2,61.4 125.9,62.3 125.6,63.2 125.2,64.1 124.9,65.1 124.6,66.0 124.3,66.9 124.0,67.8 123.6,68.7 123.3,69.6 122.9,70.6 122.6,71.5 122.3,72.4 121.9,73.3 121.5,74.2 121.2,75.1 120.8,76.0 120.4,76.9 120.1,77.8 119.7,78.7 119.3,79.6 118.9,80.5 118.5,81.4 118.1,82.3 117.7,83.1 117.3,84.0 116.9,84.9 116.5,85.8 116.1,86.7 115.7,87.6 115.3,88.5 114.8,89.3 114.4,90.2 114.0,91.1 113.6,92.0 113.1,92.8 112.7,93.7 112.3,94.6 111.8,95.5 111.4,96.3 110.9,97.2 110.5,98.1 110.0,98.9 109.6,99.8 109.1,100.7 108.7,101.5 108.3,102.4 107.8,103.3 107.4,104.1 106.9,105.0 106.5,105.9 106.0,106.7 105.6,107.6 105.1,108.5 104.7,109.3 104.2,110.2 103.8,111.1 103.4,111.9 102.9,112.8 102.5,113.7 102.1,114.6 101.7,115.4 101.2,116.3 100.8,117.2 100.4,118.1 100.0,119.0 99.6,119.8 99.2,120.7 98.8,121.6 98.4,122.5 98.0,123.4 97.7,124.3 97.3,125.2 96.9,126.1 96.6,127.0 96.2,127.9 95.9,128.8 95.5,129.7 95.2,130.6 94.8,131.5 94.5,132.5 94.2,133.4 93.8,134.3 93.5,135.2 93.2,136.1 92.9,137.0 92.6,138.0 92.3,138.9 92.0,139.8 91.7,140.7 91.4,141.7 91.1,142.6 90.9,143.5 90.6,144.5 90.3,145.4 90.1,146.3 89.8,147.3 89.5,148.2 89.3,149.2 89.0,150.1 88.8,151.0 88.6,152.0 88.3,152.9 88.1,153.9 87.9,154.8 87.7,155.8 87.4,156.7 87.2,157.7 87.0,158.6 86.8,159.6 86.6,160.5 86.4,161.5 86.2,162.5 86.0,163.4 85.8,164.4 85.7,165.3 85.5,166.3 85.3,167.3 85.1,168.2 85.0,169.2 84.8,170.1 84.6,171.1 84.5,172.1 84.3,173.0 84.2,174.0 84.0,175.0 83.9,175.9 83.8,176.9 83.6,177.9 83.5,178.8 83.4,179.8 83.2,180.8 83.1,181.7 83.0,182.7 82.9,183.7 82.8,184.6 82.7,185.6 82.6,186.6 82.5,187.5 82.4,188.5 82.3,189.5 82.2,190.5 82.1,191.4 82.0,192.4 81.9,193.4 81.9,194.3 81.8,195.3 81.7,196.3 81.6,197.3 81.6,198.2 81.5,199.2 81.4,200.2 81.4,201.1 81.3,202.1 81.3,203.1 81.2,204.1 81.2,205.0 81.1,206.0 81.1,207.0 81.0,207.9 81.0,208.9 80.9,209.9 80.9,210.9 80.9,211.8 80.8,212.8 80.8,213.8 80.8,214.8 80.7,215.7 80.7,216.7 80.7,217.7 80.7,218.7 80.7,219.6 80.6,220.6 80.6,221.6 80.6,222.5 80.6,223.5 80.6,224.5 80.6,225.5 80.6,226.4 80.5,227.4 80.5,228.4 80.5,229.4 80.5,230.3 80.5,231.3 80.5,232.3 80.5,233.3 80.5,234.2 80.5,235.2 80.5,236.2 80.5,237.2 80.5,238.1 80.5,239.1 80.5,240.1 80.5,241.1 80.5,242.0 80.5,243.0 80.6,244.0 80.6,245.0 80.6,245.9 80.6,246.9 80.6,247.9 80.6,248.9 80.6,249.8 80.6,250.8 80.6,251.8 80.6,252.8 80.6,253.7 80.7,254.7 80.7,255.7 80.7,256.7 80.7,257.6 80.7,258.6 80.7,259.6 80.7,260.6 80.7,261.5 80.7,262.5 80.7,263.5 80.7,264.5 80.7,265.4 80.7,266.4 80.8,267.4 80.8,268.4 80.8,269.3 80.8,270.3 80.8,271.3 80.8,272.3 80.8,273.2 80.8,274.2 80.8,275.2 80.8,276.2 80.8,277.1 80.8,278.1 80.8,279.1 80.7,280.1 80.7,281.0 80.7,282.0 80.7,283.0 80.7,284.0 80.7,284.9 80.7,285.9 80.7,286.9 80.6,287.9 80.6,288.8 80.6,289.8 80.6,290.0 35.25,290.0" fill="rgb(0,0,128)" fill-opacity="0.6"/>
<polygon points="143.4,8.1 143.6,9.0 143.8,9.9 144.0,10.8 144.2,11.7 144.4,12.6 144.6,13.5 144.7,14.4 144.9,15.4 145.1,16.3 145.2,17.3 145.4,18.2 145.5,19.1 145.7,20.1 145.9,21.1 146.0,22.0 146.2,23.0 146.3,23.9 146.5,24.9 146.7,25.9 146.9,26.8 147.0,27.8 147.2,28.7 147.4,29.7 147.6,30.7 147.8,31.6 148.0,32.6 148.3,33.5 148.5,34.5 148.7,35.4 149.0,36.3 149.3,37.3 149.5,38.2 149.8,39.1 150.1,40.0 150.4,40.9 150.8,41.8 151.1,42.7 151.5,43.6 151.8,44.5 152.2,45.4 152.6,46.2 153.0,47.1 153.5,47.9 153.9,48.8 154.4,49.6 154.9,50.4 155.3,51.2 155.9,52.0 156.4,52.8 156.9,53.5 157.5,54.3 158.0,55.0 158.6,55.8 159.2,56.5 159.8,57.2 160.4,57.9 161.1,58.5 161.7,59.2 162.4,59.8 163.1,60.5 163.8,61.1 164.5,61.7 165.2,62.3 166.0,62.9 166.7,63.4 167.5,64.0 168.3,64.5 169.1,65.1 169.9,65.6 170.7,66.1 171.5,66.6 172.3,67.1 173.1,67.6 174.0,68.0 174.8,68.5 175.7,68.9 176.6,69.3 177.4,69.8 178.3,70.2 179.2,70.6 180.1,71.0 181.0,71.4 181.9,71.8 182.8,72.1 183.7,72.5 184.6,72.8 185.5,73.2 186.5,73.5 187.4,73.9 188.3,74.2 189.3,74.5 190.2,74.8 191.1,75.1 192.1,75.4 193.0,75.7 193.9,76.0 194.9,76.3 195.8,76.5 196.7,76.8 197.7,77.1 198.6,77.3 199.5,77.6 200.5,77.8 201.4,78.1 202.3,78.3 203.3,78.5 204.2,78.7 205.2,79.0 206.1,79.2 207.0,79.4 208.0,79.6 208.9,79.8 209.8,80.0 210.8,80.2 211.7,80.4 212.7,80.6 213.6,80.8 214.5,81.0 215.5,81.1 216.4,81.3 217.3,81.5 218.3,81.6 219.2,81.8 220.2,82.0 221.1,82.1 222.0,82.3 223.0,82.4 223.9,82.6 224.9,82.7 225.8,82.9 226.8,83.0 227.7,83.2 228.6,83.3 229.6,83.4 230.5,83.6 231.5,83.7 232.4,83.8 233.4,84.0 234.3,84.1 235.2,84.2 236.2,84.4 237.1,84.5 238.1,84.6 239.0,84.7 240.0,84.8 240.9,85.0 241.9,85.1 242.8,85.2 243.8,85.3 244.7,85.4 245.7,85.5 246.6,85.6 247.6,85.7 248.5,85.8 249.5,85.9 250.4,86.0 251.4,86.1 252.3,86.2 253.3,86.3 254.2,86.4 255.2,86.5 256.1,86.6 257.1,86.7 258.0,86.8 259.0,86.9 259.9,87.0 260.9,87.1 261.8,87.2 262.8,87.3 263.7,87.3 264.7,87.4 265.6,87.5 266.6,87.6 267.5,87.7 268.5,87.7 269.5,87.8 270.4,87.9 271.4,88.0 272.3,88.0 273.3,88.1 274.2,88.2 275.2,88.3 276.1,88.3 277.1,88.4 278.1,88.5 279.0,88.5 280.0,88.6 280.9,88.7 281.9,88.7 282.8,88.8 283.8,88.9 284.8,88.9 285.7,89.0 286.7,89.0 287.6,89.1 288.6,89.2 289.5,89.2 290.5,89.3 291.5,89.3 292.4,89.4 293.4,89.4 294.3,89.5 295.3,89.5 296.2,89.6 297.2,89.6 298.2,89.7 299.1,89.7 300.1,89.8 301.0,89.8 302.0,89.9 303.0,89.9 303.9,90.0 304.9,90.0 305.8,90.0 306.8,90.1 307.8,90.1 308.7,90.2 309.7,90.2 310.6,90.3 311.6,90.3 312.6,90.3 313.5,90.4 314.5,90.4 315.4,90.5 316.4,90.5 317.4,90.5 318.3,90.6 319.3,90.6 320.2,90.6 321.2,90.7 322.2,90.7 323.1,90.7 324.1,90.8 325.0,90.8 326.0,90.8 327.0,90.9 327.9,90.9 328.9,90.9 329.8,91.0 330.8,91.0 331.8,91.0 332.7,91.1 333.7,91.1 334.6,91.1 335.6,91.1 336.6,91.2 337.5,91.2 338.5,91.2 339.4,91.3 340.4,91.3 341.4,91.3 342.3,91.3 343.3,91.4 344.2,91.4 345.2,91.4 346.2,91.5 347.1,91.5 348.1,91.5 349.0,91.5 350.0,91.6 350.9,91.6 351.9,91.6 352.9,91.7 353.8,91.7 354.8,91.7 355.7,91.7 356.7,91.8 357.6,91.8 358.6,91.8 359.6,91.8 360.5,91.9 361.5,91.9 362.4,91.9 363.4,92.0 364.3,92.0 365.3,92.0 366.3,92.0 367.2,92.1 368.2,92.1 369.1,92.1 370.1,92.1 371.0,92.2 372.0,92.2 372.9,92.2 373.9,92.3 374.9,92.3 375.8,92.3 376.8,92.4 377.7,92.4 378.7,92.4 379.6,92.4 380.6,92.5 381.5,92.5 382.5,92.5 383.4,92.6 384.4,92.6 385.3,92.6 386.3,92.7 387.2,92.7 387.4,8.25" fill="rgb(0,0,128)" fill-opacity="0.6"/>
<polyline points="136.7,8.0 136.6,8.9 136.5,9.9 136.4,10.9 136.3,11.8 136.2,12.8 136.1,13.8 136.0,14.7 135.9,15.7 135.8,16.7 135.7,17.6 135.5,18.6 135.4,19.6 135.3,20.5 135.1,21.5 135.0,22.5 134.9,23.4 134.7,24.4 134.6,25.4 134.4,26.3 134.3,27.3 134.1,28.3 134.0,29.2 133.8,30.2 133.6,31.1 133.4,32.1 133.3,33.1 133.1,34.0 132.9,35.0 132.7,35.9 132.5,36.9 132.3,37.8 132.1,38.8 131.9,39.7 131.7,40.7 131.5,41.6 131.3,42.6 131.1,43.5 130.9,44.5 130.6,45.4 130.4,46.4 130.2,47.3 129.9,48.3 129.7,49.2 129.4,50.2 129.2,51.1 128.9,52.0 128.7,53.0 128.4,53.9 128.2,54.9 127.9,55.8 127.6,56.7 127.3,57.7 127.0,58.6 126.8,59.5 126.5,60.4 126.2,61.4 125.9,62.3 125.6,63.2 125.2,64.1 124.9,65.1 124.6,66.0 124.3,66.9 124.0,67.8 123.6,68.7 123.3,69.6 122.9,70.6 122.6,71.5 122.3,72.4 121.9,73.3 121.5,74.2 121.2,75.1 120.8,76.0 120.4,76.9 120.1,77.8 119.7,78.7 119.3,79.6 118.9,80.5 118.5,81.4 118.1,82.3 117.7,83.1 117.3,84.0 116.9,84.9 116.5,85.8 116.1,86.7 115.7,87.6 115.3,88.5 114.8,89.3 114.4,90.2 114.0,91.1 113.6,92.0 113.1,92.8 112.7,93.7 112.3,94.6 111.8,95.5 111.4,96.3 110.9,97.2 110.5,98.1 110.0,98.9 109.6,99.8 109.1,100.7 108.7,101.5 108.3,102.4 107.8,103.3 107.4,104.1 106.9,105.0 106.5,105.9 106.0,106.7 105.6,107.6 105.1,108.5 104.7,109.3 104.2,110.2 103.8,111.1 103.4,111.9 102.9,112.8 102.5,113.7 102.1,114.6 101.7,115.4 101.2,116.3 100.8,117.2 100.4,118.1 100.0,119.0 99.6,119.8 99.2,120.7 98.8,121.6 98.4,122.5 98.0,123.4 97.7,124.3 97.3,125.2 96.9,126.1 96.6,127.0 96.2,127.9 95.9,128.8 95.5,129.7 95.2,130.6 94.8,131.5 94.5,132.5 94.2,133.4 93.8,134.3 93.5,135.2 93.2,136.1 92.9,137.0 92.6,138.0 92.3,138.9 92.0,139.8 91.7,140.7 91.4,141.7 91.1,142.6 90.9,143.5 90.6,144.5 90.3,145.4 90.1,146.3 89.8,147.3 89.5,148.2 89.3,149.2 89.0,150.1 88.8,151.0 88.6,152.0 88.3,152.9 88.1,153.9 87.9,154.8 87.7,155.8 87.4,156.7 87.2,157.7 87.0,158.6 86.8,159.6 86.6,160.5 86.4,161.5 86.2,162.5 86.0,163.4 85.8,164.4 85.7,165.3 85.5,166.3 85.3,167.3 85.1,168.2 85.0,169.2 84.8,170.1 84.6,171.1 84.5,172.1 84.3,173.0 84.2,174.0 84.0,175.0 83.9,175.9 83.8,176.9 83.6,177.9 83.5,178.8 83.4,179.8 83.2,180.8 83.1,181.7 83.0,182.7 82.9,183.7 82.8,184.6 82.7,185.6 82.6,186.6 82.5,187.5 82.4,188.5 82.3,189.5 82.2,190.5 82.1,191.4 82.0,192.4 81.9,193.4 81.9,194.3 81.8,195.3 81.7,196.3 81.6,197.3 81.6,198.2 81.5,199.2 81.4,200.2 81.4,201.1 81.3,202.1 81.3,203.1 81.2,204.1 81.2,205.0 81.1,206.0 81.1,207.0 81.0,207.9 81.0,208.9 80.9,209.9 80.9,210.9 80.9,211.8 80.8,212.8 80.8,213.8 80.8,214.8 80.7,215.7 80.7,216.7 80.7,217.7 80.7,218.7 80.7,219.6 80.6,220.6 80.6,221.6 80.6,222.5 80.6,223.5 80.6,224.5 80.6,225.5 80.6,226.4 80.5,227.4 80.5,228.4 80.5,229.4 80.5,230.3 80.5,231.3 80.5,232.3 80.5,233.3 80.5,234.2 80.5,235.2 80.5,236.2 80.5,237.2 80.5,238.1 80.5,239.1 80.5,240.1 80.5,241.1 80.5,242.0 80.5,243.0 80.6,244.0 80.6,245.0 80.6,245.9 80.6,246.9 80.6,247.9 80.6,248.9 80.6,249.8 80.6,250.8 80.6,251.8 80.6,252.8 80.6,253.7 80.7,254.7 80.7,255.7 80.7,256.7 80.7,257.6 80.7,258.6 80.7,259.6 80.7,260.6 80.7,261.5 80.7,262.5 80.7,263.5 80.7,264.5 80.7,265.4 80.7,266.4 80.8,267.4 80.8,268.4 80.8,269.3 80.8,270.3 80.8,271.3 80.8,272.3 80.8,273.2 80.8,274.2 80.8,275.2 80.8,276.2 80.8,277.1 80.8,278.1 80.8,279.1 80.7,280.1 80.7,281.0 80.7,282.0 80.7,283.0 80.7,284.0 80.7,284.9 80.7,285.9 80.7,286.9 80.6,287.9 80.6,288.8 80.6,289.8 80.6,290.0" fill="none" stroke="rgb(0,0,128)" stroke-width="1.2"/>
<polyline points="143.4,8.1 143.6,9.0 143.8,9.9 144.0,10.8 144.2,11.7 144.4,12.6 144.6,13.5 144.7,14.4 144.9,15.4 145.1,16.3 145.2,17.3 145.4,18.2 145.5,19.1 145.7,20.1 145.9,21.1 146.0,22.0 146.2,23.0 146.3,23.9 146.5,24.9 146.7,25.9 146.9,26.8 147.0,27.8 147.2,28.7 147.4,29.7 147.6,30.7 147.8,31.6 148.0,32.6 148.3,33.5 148.5,34.5 148.7,35.4 149.0,36.3 149.3,37.3 149.5,38.2 149.8,39.1 150.1,40.0 150.4,40.9 150.8,41.8 151.1,42.7 151.5,43.6 151.8,44.5 152.2,45.4 152.6,46.2 153.0,47.1 153.5,47.9 153.9,48.8 154.4,49.6 154.9,50.4 155.3,51.2 155.9,52.0 156.4,52.8 156.9,53.5 157.5,54.3 158.0,55.0 158.6,55.8 159.2,56.5 159.8,57.2 160.4,57.9 161.1,58.5 161.7,59.2 162.4,59.8 163.1,60.5 163.8,61.1 164.5,61.7 165.2,62.3 166.0,62.9 166.7,63.4 167.5,64.0 168.3,64.5 169.1,65.1 169.9,65.6 170.7,66.1 171.5,66.6 172.3,67.1 173.1,67.6 174.0,68.0 174.8,68.5 175.7,68.9 176.6,69.3 177.4,69.8 178.3,70.2 179.2,70.6 180.1,71.0 181.0,71.4 181.9,71.8 182.8,72.1 183.7,72.5 184.6,72.8 185.5,73.2 186.5,73.5 187.4,73.9 188.3,74.2 189.3,74.5 190.2,74.8 191.1,75.1 192.1,75.4 193.0,75.7 193.9,76.0 194.9,76.3 195.8,76.5 196.7,76.8 197.7,77.1 198.6,77.3 199.5,77.6 200.5,77.8 201.4,78.1 202.3,78.3 203.3,78.5 204.2,78.7 205.2,79.0 206.1,79.2 207.0,79.4 208.0,79.6 208.9,79.8 209.8,80.0 210.8,80.2 211.7,80.4 212.7,80.6 213.6,80.8 214.5,81.0 215.5,81.1 216.4,81.3 217.3,81.5 218.3,81.6 219.2,81.8 220.2,82.0 221.1,82.1 222.0,82.3 223.0,82.4 223.9,82.6 224.9,82.7 225.8,82.9 226.8,83.0 227.7,83.2 228.6,83.3 229.6,83.4 230.5,83.6 231.5,83.7 232.4,83.8 233.4,84.0 234.3,84.1 235.2,84.2 236.2,84.4 237.1,84.5 238.1,84.6 239.0,84.7 240.0,84.8 240.9,85.0 241.9,85.1 242.8,85.2 243.8,85.3 244.7,85.4 245.7,85.5 246.6,85.6 247.6,85.7 248.5,85.8 249.5,85.9 250.4,86.0 251.4,86.1 252.3,86.2 253.3,86.3 254.2,86.4 255.2,86.5 256.1,86.6 257.1,86.7 258.0,86.8 259.0,86.9 259.9,87.0 260.9,87.1 261.8,87.2 262.8,87.3 263.7,87.3 264.7,87.4 265.6,87.5 266.6,87.6 267.5,87.7 268.5,87.7 269.5,87.8 270.4,87.9 271.4,88.0 272.3,88.0 273.3,88.1 274.2,88.2 275.2,88.3 276.1,88.3 277.1,88.4 278.1,88.5 279.0,88.5 280.0,88.6 280.9,88.7 281.9,88.7 282.8,88.8 283.8,88.9 284.8,88.9 285.7,89.0 286.7,89.0 287.6,89.1 288.6,89.2 289.5,89.2 290.5,89.3 291.5,89.3 292.4,89.4 293.4,89.4 294.3,89.5 295.3,89.5 296.2,89.6 297.2,89.6 298.2,89.7 299.1,89.7 300.1,89.8 301.0,89.8 302.0,89.9 303.0,89.9 303.9,90.0 304.9,90.0 305.8,90.0 306.8,90.1 307.8,90.1 308.7,90.2 309.7,90.2 310.6,90.3 311.6,90.3 312.6,90.3 313.5,90.4 314.5,90.4 315.4,90.5 316.4,90.5 317.4,90.5 318.3,90.6 319.3,90.6 320.2,90.6 321.2,90.7 322.2,90.7 323.1,90.7 324.1,90.8 325.0,90.8 326.0,90.8 327.0,90.9 327.9,90.9 328.9,90.9 329.8,91.0 330.8,91.0 331.8,91.0 332.7,91.1 333.7,91.1 334.6,91.1 335.6,91.1 336.6,91.2 337.5,91.2 338.5,91.2 339.4,91.3 340.4,91.3 341.4,91.3 342.3,91.3 343.3,91.4 344.2,91.4 345.2,91.4 346.2,91.5 347.1,91.5 348.1,91.5 349.0,91.5 350.0,91.6 350.9,91.6 351.9,91.6 352.9,91.7 353.8,91.7 354.8,91.7 355.7,91.7 356.7,91.8 357.6,91.8 358.6,91.8 359.6,91.8 360.5,91.9 361.5,91.9 362.4,91.9 363.4,92.0 364.3,92.0 365.3,92.0 366.3,92.0 367.2,92.1 368.2,92.1 369.1,92.1 370.1,92.1 371.0,92.2 372.0,92.2 372.9,92.2 373.9,92.3 374.9,92.3 375.8,92.3 376.8,92.4 377.7,92.4 378.7,92.4 379.6,92.4 380.6,92.5 381.5,92.5 382.5,92.5 383.4,92.6 384.4,92.6 385.3,92.6 386.3,92.7 387.2,92.7" fill="none" stroke="rgb(0,0,128)" stroke-width="1.2"/>
<path d="M156.3,111 L156.2,120 L155.9,127.2 M156.3,111 L156.4,127.2" fill="none" stroke="rgb(22,142,22)" stroke-width="1.1"/>
<rect x="35.25" y="8.25" width="352.15" height="103.15" fill="rgb(128,128,128)" fill-opacity="0.8"/>
<line x1="35.25" y1="111.4" x2="387.4" y2="111.4" stroke="rgb(128,128,128)" stroke-opacity="0.8" stroke-width="1"/>
<line x1="197.7" y1="8.25" x2="197.7" y2="111.4" stroke="#404040" stroke-opacity="0.5" stroke-width="0.65" stroke-dasharray="2.3 0.6"/>
<line x1="197.7" y1="111.4" x2="197.7" y2="290.0" stroke="#404040" stroke-width="0.65" stroke-dasharray="2.3 0.6"/>
<line x1="156.3" y1="8.25" x2="156.3" y2="111.4" stroke="rgb(40,120,40)" stroke-opacity="0.75" stroke-width="0.7"/>
</g>
<rect x="35.25" y="8.25" width="352.15" height="281.75" fill="none" stroke="#1c1c1c" stroke-width="0.95"/>
<path d="M35.25,290.0v-4.5M35.25,8.25v4.5M48.79,290.0v-2.5M48.79,8.25v2.5M62.34,290.0v-2.5M62.34,8.25v2.5M75.88,290.0v-2.5M75.88,8.25v2.5M89.43,290.0v-4.5M89.43,8.25v4.5M102.97,290.0v-2.5M102.97,8.25v2.5M116.52,290.0v-2.5M116.52,8.25v2.5M130.06,290.0v-2.5M130.06,8.25v2.5M143.60,290.0v-4.5M143.60,8.25v4.5M157.15,290.0v-2.5M157.15,8.25v2.5M170.69,290.0v-2.5M170.69,8.25v2.5M184.24,290.0v-2.5M184.24,8.25v2.5M197.78,290.0v-4.5M197.78,8.25v4.5M211.32,290.0v-2.5M211.32,8.25v2.5M224.87,290.0v-2.5M224.87,8.25v2.5M238.41,290.0v-2.5M238.41,8.25v2.5M251.96,290.0v-4.5M251.96,8.25v4.5M265.50,290.0v-2.5M265.50,8.25v2.5M279.05,290.0v-2.5M279.05,8.25v2.5M292.59,290.0v-2.5M292.59,8.25v2.5M306.13,290.0v-4.5M306.13,8.25v4.5M319.68,290.0v-2.5M319.68,8.25v2.5M333.22,290.0v-2.5M333.22,8.25v2.5M346.77,290.0v-2.5M346.77,8.25v2.5M360.31,290.0v-4.5M360.31,8.25v4.5M373.86,290.0v-2.5M373.86,8.25v2.5M387.40,290.0v-2.5M387.40,8.25v2.5M35.25,8.25h4.5M387.4,8.25h-4.5M35.25,22.34h2.5M387.4,22.34h-2.5M35.25,36.42h2.5M387.4,36.42h-2.5M35.25,50.51h2.5M387.4,50.51h-2.5M35.25,64.60h2.5M387.4,64.60h-2.5M35.25,78.69h4.5M387.4,78.69h-4.5M35.25,92.78h2.5M387.4,92.78h-2.5M35.25,106.86h2.5M387.4,106.86h-2.5M35.25,120.95h2.5M387.4,120.95h-2.5M35.25,135.04h2.5M387.4,135.04h-2.5M35.25,149.12h4.5M387.4,149.12h-4.5M35.25,163.21h2.5M387.4,163.21h-2.5M35.25,177.30h2.5M387.4,177.30h-2.5M35.25,191.39h2.5M387.4,191.39h-2.5M35.25,205.48h2.5M387.4,205.48h-2.5M35.25,219.56h4.5M387.4,219.56h-4.5M35.25,233.65h2.5M387.4,233.65h-2.5M35.25,247.74h2.5M387.4,247.74h-2.5M35.25,261.83h2.5M387.4,261.83h-2.5M35.25,275.91h2.5M387.4,275.91h-2.5M35.25,290.00h4.5M387.4,290.00h-4.5" stroke="#000" stroke-width="0.9" fill="none"/>
<text x="35.2" y="304.0" font-size="10.2" text-anchor="middle" textLength="12.8" lengthAdjust="spacingAndGlyphs">−6</text>
<text x="89.4" y="304.0" font-size="10.2" text-anchor="middle" textLength="12.8" lengthAdjust="spacingAndGlyphs">−4</text>
<text x="143.6" y="304.0" font-size="10.2" text-anchor="middle" textLength="12.8" lengthAdjust="spacingAndGlyphs">−2</text>
<text x="197.8" y="304.0" font-size="10.2" text-anchor="middle" textLength="6.0" lengthAdjust="spacingAndGlyphs">0</text>
<text x="252.0" y="304.0" font-size="10.2" text-anchor="middle" textLength="6.0" lengthAdjust="spacingAndGlyphs">2</text>
<text x="306.1" y="304.0" font-size="10.2" text-anchor="middle" textLength="6.0" lengthAdjust="spacingAndGlyphs">4</text>
<text x="360.3" y="304.0" font-size="10.2" text-anchor="middle" textLength="6.0" lengthAdjust="spacingAndGlyphs">6</text>
<text x="31.7" y="11.8" font-size="10.2" text-anchor="end" textLength="12.8" lengthAdjust="spacingAndGlyphs">−1</text>
<text x="31.7" y="82.3" font-size="10.2" text-anchor="end" textLength="12.8" lengthAdjust="spacingAndGlyphs">−2</text>
<text x="31.7" y="152.7" font-size="10.2" text-anchor="end" textLength="12.8" lengthAdjust="spacingAndGlyphs">−3</text>
<text x="31.7" y="223.2" font-size="10.2" text-anchor="end" textLength="12.8" lengthAdjust="spacingAndGlyphs">−4</text>
<text x="31.7" y="293.6" font-size="10.2" text-anchor="end" textLength="12.8" lengthAdjust="spacingAndGlyphs">−5</text>
<text x="206.8" y="122.4" font-size="9.2" fill="#808080" stroke="#808080" stroke-width="0.15">Cassini</text>
<text x="108.6" y="144.8" font-size="9.3" fill="#ff1414" stroke="#ff1414" stroke-width="0.12" textLength="21.2" lengthAdjust="spacingAndGlyphs">1738</text>
<text x="86.6" y="194.1" font-size="9.3" fill="#14148c" stroke="#14148c" stroke-width="0.25" textLength="21.3" lengthAdjust="spacingAndGlyphs">0348</text>
<text x="164.5" y="153" font-size="9.3" fill="#108a10" stroke="#108a10" stroke-width="0.25" textLength="92.7" lengthAdjust="spacingAndGlyphs">triple system with SKA</text>
<text x="118.7" y="222.4" font-size="9.3" fill="#111" stroke="#111" stroke-width="0.2" textLength="107.4" lengthAdjust="spacingAndGlyphs">PSR−BH systems with SKA</text>
<text x="203.5" y="317.3" font-size="12.3" font-weight="bold">β<tspan font-size="8.5" dy="2">0</tspan></text>
<text transform="translate(13.3,166.2) rotate(-90)" font-size="12.3" font-weight="bold" textLength="33.6" lengthAdjust="spacingAndGlyphs">lg|α<tspan font-size="8.5" dy="2">0</tspan><tspan dy="-2">|</tspan></text>
</svg>
</body></html>
